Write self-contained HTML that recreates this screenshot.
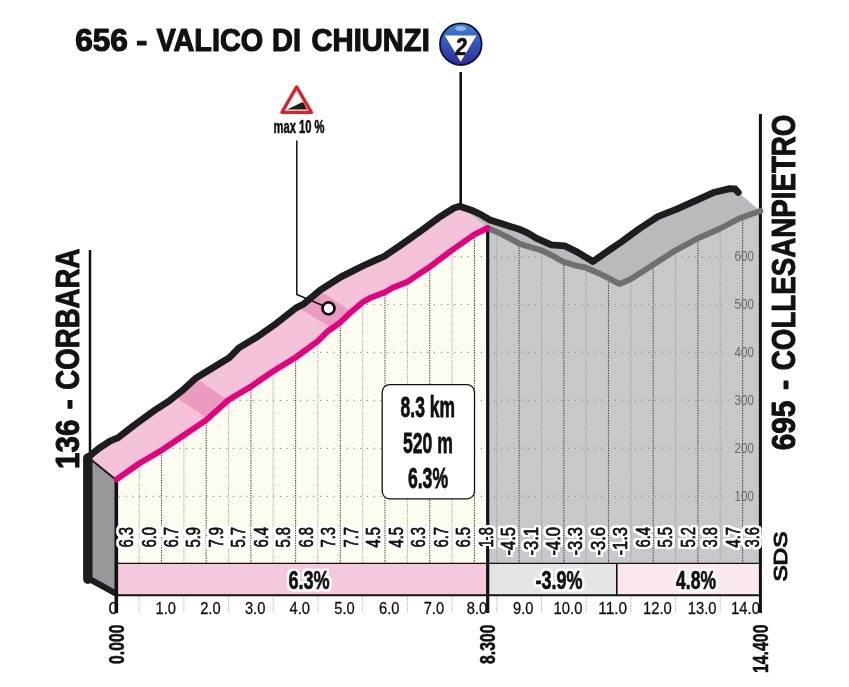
<!DOCTYPE html>
<html lang="it"><head><meta charset="utf-8"><title>Valico di Chiunzi</title>
<style>html,body{margin:0;padding:0;background:#fff}svg{display:block}text{font-family:"Liberation Sans",sans-serif}</style>
</head><body>
<svg width="849" height="687" viewBox="0 0 849 687">
<defs>
<clipPath id="cf"><polygon points="116.6,479.3 139.2,463.5 161.5,450.4 183.8,435.2 205.8,420.4 228.4,400.0 250.9,386.6 273.2,371.2 295.6,357.5 317.9,341.2 327.5,331.5 340.3,322.3 351.2,311.9 362.6,302.3 370.0,298.1 385.0,292.3 392.8,287.8 407.1,282.1 419.0,274.0 429.5,267.1 451.7,250.3 474.2,234.7 487.5,228.0 498.4,232.6 507.8,237.3 519.2,243.6 532.4,247.7 541.9,250.5 553.2,256.2 562.7,261.5 575.9,265.7 585.4,267.5 598.6,273.2 608.1,277.9 619.2,283.9 630.0,279.6 641.5,272.2 653.1,264.8 674.8,250.8 697.5,238.5 719.3,229.0 741.0,217.7 760.4,211.0 760.4,563.4 116.6,563.4"/></clipPath>
<clipPath id="ct"><polygon points="88.5,456.9 98.9,448.3 110.3,440.8 117.8,437.9 134.8,424.7 155.7,409.6 168.9,401.1 182.1,390.7 195.4,378.4 212.4,368.0 229.4,357.6 238.9,347.9 257.8,336.5 276.7,323.2 295.7,308.1 303.2,304.3 320.2,290.1 341.0,276.9 363.7,265.5 375.1,260.4 384.0,256.5 402.9,243.6 421.8,230.3 440.7,216.3 454.0,208.0 459.6,206.2 487.5,228.0 474.2,234.7 451.7,250.3 429.5,267.1 419.0,274.0 407.1,282.1 392.8,287.8 385.0,292.3 370.0,298.1 362.6,302.3 351.2,311.9 340.3,322.3 327.5,331.5 317.9,341.2 295.6,357.5 273.2,371.2 250.9,386.6 228.4,400.0 205.8,420.4 183.8,435.2 161.5,450.4 139.2,463.5 116.6,479.3"/></clipPath>
<linearGradient id="bg" x1="0" y1="0" x2="0" y2="1"><stop offset="0" stop-color="#3f86d6"/><stop offset="0.45" stop-color="#3558c0"/><stop offset="1" stop-color="#2f2a96"/></linearGradient>
<filter id="halo" x="-5%" y="-5%" width="110%" height="110%" color-interpolation-filters="sRGB"><feMorphology in="SourceAlpha" operator="dilate" radius="1.7" result="d"/><feGaussianBlur in="d" stdDeviation="0.4" result="db"/><feComponentTransfer in="db" result="dc"><feFuncA type="linear" slope="3" intercept="0"/></feComponentTransfer><feFlood flood-color="#fff"/><feComposite in2="dc" operator="in" result="h"/><feMerge><feMergeNode in="h"/><feMergeNode in="SourceGraphic"/></feMerge></filter>
</defs>
<rect width="849" height="687" fill="#fff"/>
<polygon points="459.6,206.2 472.9,210.7 481.3,214.8 490.0,220.0 505.0,224.8 520.2,229.6 528.0,233.2 536.2,238.2 551.3,244.8 564.6,245.8 577.8,252.4 593.0,261.5 610.0,249.6 621.2,242.0 638.9,229.0 657.8,216.7 676.7,209.2 695.7,200.7 714.6,192.2 729.7,188.6 735.2,188.9 738.3,192.4 760.4,211.0 741.0,217.7 719.3,229.0 697.5,238.5 674.8,250.8 653.1,264.8 641.5,272.2 630.0,279.6 619.2,283.9 608.1,277.9 598.6,273.2 585.4,267.5 575.9,265.7 562.7,261.5 553.2,256.2 541.9,250.5 532.4,247.7 519.2,243.6 507.8,237.3 498.4,232.6 487.5,228.0" fill="#b9babd"/>
<polygon points="88.5,456.9 98.9,448.3 110.3,440.8 117.8,437.9 134.8,424.7 155.7,409.6 168.9,401.1 182.1,390.7 195.4,378.4 212.4,368.0 229.4,357.6 238.9,347.9 257.8,336.5 276.7,323.2 295.7,308.1 303.2,304.3 320.2,290.1 341.0,276.9 363.7,265.5 375.1,260.4 384.0,256.5 402.9,243.6 421.8,230.3 440.7,216.3 454.0,208.0 459.6,206.2 487.5,228.0 474.2,234.7 451.7,250.3 429.5,267.1 419.0,274.0 407.1,282.1 392.8,287.8 385.0,292.3 370.0,298.1 362.6,302.3 351.2,311.9 340.3,322.3 327.5,331.5 317.9,341.2 295.6,357.5 273.2,371.2 250.9,386.6 228.4,400.0 205.8,420.4 183.8,435.2 161.5,450.4 139.2,463.5 116.6,479.3" fill="#f4c3da"/>
<g clip-path="url(#ct)" fill="#ea9cc0">
<polygon points="177.5,398.6 198.3,379.7 227.8,400.2 207,418.1"/>
<polygon points="300.4,309 322.9,292.8 351.5,311.6 330.8,327.8"/>
</g>
<polygon points="116.6,479.3 139.2,463.5 161.5,450.4 183.8,435.2 205.8,420.4 228.4,400.0 250.9,386.6 273.2,371.2 295.6,357.5 317.9,341.2 327.5,331.5 340.3,322.3 351.2,311.9 362.6,302.3 370.0,298.1 385.0,292.3 392.8,287.8 407.1,282.1 419.0,274.0 429.5,267.1 451.7,250.3 474.2,234.7 487.5,228.0 487.8,563.4 116.6,563.4" fill="#fdfcf1"/>
<polygon points="487.5,228.0 498.4,232.6 507.8,237.3 519.2,243.6 532.4,247.7 541.9,250.5 553.2,256.2 562.7,261.5 575.9,265.7 585.4,267.5 598.6,273.2 608.1,277.9 619.2,283.9 630.0,279.6 641.5,272.2 653.1,264.8 674.8,250.8 697.5,238.5 719.3,229.0 741.0,217.7 760.4,211.0 760.4,563.4 487.8,563.4" fill="#c7c8cc"/>
<g clip-path="url(#cf)" fill="none">
<line x1="119" y1="496.3" x2="729" y2="496.3" stroke="#8f8f8f" stroke-width="1.2" stroke-dasharray="1.2 5.5"/>
<line x1="119" y1="448.3" x2="729" y2="448.3" stroke="#8f8f8f" stroke-width="1.2" stroke-dasharray="1.2 5.5"/>
<line x1="119" y1="400.4" x2="729" y2="400.4" stroke="#8f8f8f" stroke-width="1.2" stroke-dasharray="1.2 5.5"/>
<line x1="119" y1="352.4" x2="729" y2="352.4" stroke="#8f8f8f" stroke-width="1.2" stroke-dasharray="1.2 5.5"/>
<line x1="119" y1="304.5" x2="729" y2="304.5" stroke="#8f8f8f" stroke-width="1.2" stroke-dasharray="1.2 5.5"/>
<line x1="119" y1="256.6" x2="729" y2="256.6" stroke="#8f8f8f" stroke-width="1.2" stroke-dasharray="1.2 5.5"/>
<line x1="139.2" y1="180" x2="139.2" y2="563.4" stroke="#9a9a9a" stroke-width="1" stroke-dasharray="0.9 0.9"/>
<line x1="161.5" y1="180" x2="161.5" y2="563.4" stroke="#3a3a3a" stroke-width="1.1" stroke-dasharray="1.2 1.3"/>
<line x1="183.9" y1="180" x2="183.9" y2="563.4" stroke="#9a9a9a" stroke-width="1" stroke-dasharray="0.9 0.9"/>
<line x1="206.2" y1="180" x2="206.2" y2="563.4" stroke="#3a3a3a" stroke-width="1.1" stroke-dasharray="1.2 1.3"/>
<line x1="228.6" y1="180" x2="228.6" y2="563.4" stroke="#9a9a9a" stroke-width="1" stroke-dasharray="0.9 0.9"/>
<line x1="250.9" y1="180" x2="250.9" y2="563.4" stroke="#3a3a3a" stroke-width="1.1" stroke-dasharray="1.2 1.3"/>
<line x1="273.2" y1="180" x2="273.2" y2="563.4" stroke="#9a9a9a" stroke-width="1" stroke-dasharray="0.9 0.9"/>
<line x1="295.6" y1="180" x2="295.6" y2="563.4" stroke="#3a3a3a" stroke-width="1.1" stroke-dasharray="1.2 1.3"/>
<line x1="317.9" y1="180" x2="317.9" y2="563.4" stroke="#9a9a9a" stroke-width="1" stroke-dasharray="0.9 0.9"/>
<line x1="340.3" y1="180" x2="340.3" y2="563.4" stroke="#3a3a3a" stroke-width="1.1" stroke-dasharray="1.2 1.3"/>
<line x1="362.7" y1="180" x2="362.7" y2="563.4" stroke="#9a9a9a" stroke-width="1" stroke-dasharray="0.9 0.9"/>
<line x1="385.0" y1="180" x2="385.0" y2="563.4" stroke="#3a3a3a" stroke-width="1.1" stroke-dasharray="1.2 1.3"/>
<line x1="407.4" y1="180" x2="407.4" y2="563.4" stroke="#9a9a9a" stroke-width="1" stroke-dasharray="0.9 0.9"/>
<line x1="429.7" y1="180" x2="429.7" y2="563.4" stroke="#3a3a3a" stroke-width="1.1" stroke-dasharray="1.2 1.3"/>
<line x1="452.1" y1="180" x2="452.1" y2="563.4" stroke="#9a9a9a" stroke-width="1" stroke-dasharray="0.9 0.9"/>
<line x1="474.4" y1="180" x2="474.4" y2="563.4" stroke="#3a3a3a" stroke-width="1.1" stroke-dasharray="1.2 1.3"/>
<line x1="496.8" y1="180" x2="496.8" y2="563.4" stroke="#9a9a9a" stroke-width="1" stroke-dasharray="0.9 0.9"/>
<line x1="519.1" y1="180" x2="519.1" y2="563.4" stroke="#3a3a3a" stroke-width="1.1" stroke-dasharray="1.2 1.3"/>
<line x1="541.5" y1="180" x2="541.5" y2="563.4" stroke="#9a9a9a" stroke-width="1" stroke-dasharray="0.9 0.9"/>
<line x1="563.8" y1="180" x2="563.8" y2="563.4" stroke="#3a3a3a" stroke-width="1.1" stroke-dasharray="1.2 1.3"/>
<line x1="586.1" y1="180" x2="586.1" y2="563.4" stroke="#9a9a9a" stroke-width="1" stroke-dasharray="0.9 0.9"/>
<line x1="608.5" y1="180" x2="608.5" y2="563.4" stroke="#3a3a3a" stroke-width="1.1" stroke-dasharray="1.2 1.3"/>
<line x1="630.9" y1="180" x2="630.9" y2="563.4" stroke="#9a9a9a" stroke-width="1" stroke-dasharray="0.9 0.9"/>
<line x1="653.2" y1="180" x2="653.2" y2="563.4" stroke="#3a3a3a" stroke-width="1.1" stroke-dasharray="1.2 1.3"/>
<line x1="675.5" y1="180" x2="675.5" y2="563.4" stroke="#9a9a9a" stroke-width="1" stroke-dasharray="0.9 0.9"/>
<line x1="697.9" y1="180" x2="697.9" y2="563.4" stroke="#3a3a3a" stroke-width="1.1" stroke-dasharray="1.2 1.3"/>
<line x1="720.2" y1="180" x2="720.2" y2="563.4" stroke="#9a9a9a" stroke-width="1" stroke-dasharray="0.9 0.9"/>
<line x1="742.6" y1="180" x2="742.6" y2="563.4" stroke="#3a3a3a" stroke-width="1.1" stroke-dasharray="1.2 1.3"/>
</g>
<line x1="139.2" y1="595.3" x2="139.2" y2="613" stroke="#aaa" stroke-width="1" stroke-dasharray="0.9 0.9"/>
<line x1="183.9" y1="595.3" x2="183.9" y2="613" stroke="#aaa" stroke-width="1" stroke-dasharray="0.9 0.9"/>
<line x1="228.6" y1="595.3" x2="228.6" y2="613" stroke="#aaa" stroke-width="1" stroke-dasharray="0.9 0.9"/>
<line x1="273.2" y1="595.3" x2="273.2" y2="613" stroke="#aaa" stroke-width="1" stroke-dasharray="0.9 0.9"/>
<line x1="317.9" y1="595.3" x2="317.9" y2="613" stroke="#aaa" stroke-width="1" stroke-dasharray="0.9 0.9"/>
<line x1="362.7" y1="595.3" x2="362.7" y2="613" stroke="#aaa" stroke-width="1" stroke-dasharray="0.9 0.9"/>
<line x1="407.4" y1="595.3" x2="407.4" y2="613" stroke="#aaa" stroke-width="1" stroke-dasharray="0.9 0.9"/>
<line x1="452.1" y1="595.3" x2="452.1" y2="613" stroke="#aaa" stroke-width="1" stroke-dasharray="0.9 0.9"/>
<line x1="496.8" y1="595.3" x2="496.8" y2="613" stroke="#aaa" stroke-width="1" stroke-dasharray="0.9 0.9"/>
<line x1="541.5" y1="595.3" x2="541.5" y2="613" stroke="#aaa" stroke-width="1" stroke-dasharray="0.9 0.9"/>
<line x1="586.1" y1="595.3" x2="586.1" y2="613" stroke="#aaa" stroke-width="1" stroke-dasharray="0.9 0.9"/>
<line x1="630.9" y1="595.3" x2="630.9" y2="613" stroke="#aaa" stroke-width="1" stroke-dasharray="0.9 0.9"/>
<line x1="675.5" y1="595.3" x2="675.5" y2="613" stroke="#aaa" stroke-width="1" stroke-dasharray="0.9 0.9"/>
<line x1="720.2" y1="595.3" x2="720.2" y2="613" stroke="#aaa" stroke-width="1" stroke-dasharray="0.9 0.9"/>
<rect x="116.6" y="563.4" width="371.2" height="31.9" fill="#f6c8dd"/>
<rect x="487.8" y="563.4" width="129" height="31.9" fill="#e4e5e6"/>
<rect x="616.8" y="563.4" width="143.6" height="31.9" fill="#fce9f0"/>
<line x1="116" y1="563.4" x2="761" y2="563.4" stroke="#111" stroke-width="1.4"/>
<line x1="116" y1="595.3" x2="761" y2="595.3" stroke="#111" stroke-width="2.1"/>
<line x1="616.8" y1="563.4" x2="616.8" y2="595.3" stroke="#111" stroke-width="1.6"/>
<polygon points="88,458 116.3,480 116.3,595 88,579" fill="#96989b"/>
<path d="M87.8 458 L87.8 579.3" stroke="#1d1d1f" stroke-width="9.4" stroke-linecap="round" fill="none"/>
<path d="M88.5 578.5 L116 593.6" stroke="#1d1d1f" stroke-width="6.2" stroke-linecap="butt" fill="none"/>
<path d="M89 458 L116.3 480" stroke="#1d1d1f" stroke-width="2.1" fill="none"/>
<line x1="90" y1="250" x2="90" y2="458" stroke="#111" stroke-width="2.5"/>
<line x1="460.7" y1="72" x2="460.7" y2="207" stroke="#111" stroke-width="2.6"/>
<polyline points="296.8,140.5 296.8,294.4 324,306" stroke="#111" stroke-width="1.5" fill="none"/>
<line x1="116.3" y1="480" x2="116.3" y2="613" stroke="#111" stroke-width="3.6"/>
<line x1="487.7" y1="230" x2="487.7" y2="613" stroke="#111" stroke-width="3.2"/>
<line x1="760.4" y1="114" x2="760.4" y2="613" stroke="#111" stroke-width="3"/>
<polyline points="487.5,228.0 498.4,232.6 507.8,237.3 519.2,243.6 532.4,247.7 541.9,250.5 553.2,256.2 562.7,261.5 575.9,265.7 585.4,267.5 598.6,273.2 608.1,277.9 619.2,283.9 630.0,279.6 641.5,272.2 653.1,264.8 674.8,250.8 697.5,238.5 719.3,229.0 741.0,217.7 760.4,211.0" fill="none" stroke="#6f6f73" stroke-width="5.9" stroke-linejoin="round" stroke-linecap="round"/>
<polyline points="116.6,479.3 139.2,463.5 161.5,450.4 183.8,435.2 205.8,420.4 228.4,400.0 250.9,386.6 273.2,371.2 295.6,357.5 317.9,341.2 327.5,331.5 340.3,322.3 351.2,311.9 362.6,302.3 370.0,298.1 385.0,292.3 392.8,287.8 407.1,282.1 419.0,274.0 429.5,267.1 451.7,250.3 474.2,234.7 487.5,228.0" fill="none" stroke="#e5007d" stroke-width="5.9" stroke-linejoin="round" stroke-linecap="round"/>
<polyline points="88.5,456.9 98.9,448.3 110.3,440.8 117.8,437.9 134.8,424.7 155.7,409.6 168.9,401.1 182.1,390.7 195.4,378.4 212.4,368.0 229.4,357.6 238.9,347.9 257.8,336.5 276.7,323.2 295.7,308.1 303.2,304.3 320.2,290.1 341.0,276.9 363.7,265.5 375.1,260.4 384.0,256.5 402.9,243.6 421.8,230.3 440.7,216.3 454.0,208.0 459.6,206.2 472.9,210.7 481.3,214.8 490.0,220.0 505.0,224.8 520.2,229.6 528.0,233.2 536.2,238.2 551.3,244.8 564.6,245.8 577.8,252.4 593.0,261.5 610.0,249.6 621.2,242.0 638.9,229.0 657.8,216.7 676.7,209.2 695.7,200.7 714.6,192.2 729.7,188.6 735.2,188.9 738.3,192.4" fill="none" stroke="#1d1d1f" stroke-width="6.8" stroke-linejoin="round" stroke-linecap="round"/>
<circle cx="328.5" cy="308.4" r="6.0" fill="#fff" stroke="#111" stroke-width="2.7"/>
<polygon points="296.65,86.9 281.9,112.4 311.4,112.4" fill="#fff" stroke="#e31e26" stroke-width="3.3" stroke-linejoin="round"/>
<polygon points="287,109.6 302,102.3 303.6,102.8 307,109.6" fill="#1d1d1f"/>
<circle cx="460.8" cy="44.2" r="20.8" fill="url(#bg)" stroke="#10103c" stroke-width="1.8"/>
<ellipse cx="460.6" cy="28.6" rx="5.4" ry="2.5" fill="#8ab8ec"/>
<polygon points="444.8,35.5 476.4,35.5 460.7,61.8" fill="#fff"/>
<text y="51.0" font-size="31.6" font-weight="bold" fill="#111" stroke="#111" stroke-width="1.2" stroke-linejoin="round"><tspan x="75.2" textLength="52.7" lengthAdjust="spacingAndGlyphs">656</tspan> <tspan x="136.2" textLength="11.1" lengthAdjust="spacingAndGlyphs">-</tspan> <tspan x="156.4" textLength="106.8" lengthAdjust="spacingAndGlyphs">VALICO</tspan> <tspan x="272.1" textLength="28.9" lengthAdjust="spacingAndGlyphs">DI</tspan> <tspan x="311.5" textLength="118.3" lengthAdjust="spacingAndGlyphs">CHIUNZI</tspan></text>
<text transform="translate(78.8 0) rotate(-90)" font-size="33.2" font-weight="bold" fill="#111" stroke="#111" stroke-width="1.0" stroke-linejoin="round"><tspan x="-469.0" textLength="49.4" lengthAdjust="spacingAndGlyphs">136</tspan> <tspan x="-409.4" textLength="10.3" lengthAdjust="spacingAndGlyphs">-</tspan> <tspan x="-389.7" textLength="141.1" lengthAdjust="spacingAndGlyphs">CORBARA</tspan></text>
<text transform="translate(795.2 0) rotate(-90)" font-size="33.4" font-weight="bold" fill="#111" stroke="#111" stroke-width="1.0" stroke-linejoin="round"><tspan x="-450.2" textLength="49.6" lengthAdjust="spacingAndGlyphs">695</tspan> <tspan x="-389.9" textLength="10.2" lengthAdjust="spacingAndGlyphs">-</tspan> <tspan x="-370.2" textLength="255.6" lengthAdjust="spacingAndGlyphs">COLLESANPIETRO</tspan></text>
<text x="299.0" y="132.5" text-anchor="middle" font-size="18.4" font-weight="bold" fill="#111" textLength="51.0" lengthAdjust="spacingAndGlyphs"  stroke="#111" stroke-width="0.6" stroke-linejoin="round">max 10 %</text>
<rect x="382.2" y="384.7" width="92.3" height="114.1" rx="7.5" fill="#fff" stroke="#111" stroke-width="1.3"/>
<text x="427.8" y="417.2" text-anchor="middle" font-size="29.8" font-weight="bold" fill="#111" textLength="54.4" lengthAdjust="spacingAndGlyphs"  stroke="#111" stroke-width="0.8" stroke-linejoin="round">8.3 km</text>
<text x="427.9" y="452.5" text-anchor="middle" font-size="29.8" font-weight="bold" fill="#111" textLength="49.9" lengthAdjust="spacingAndGlyphs"  stroke="#111" stroke-width="0.8" stroke-linejoin="round">520 m</text>
<text x="428.0" y="488.2" text-anchor="middle" font-size="29.8" font-weight="bold" fill="#111" textLength="40.1" lengthAdjust="spacingAndGlyphs"  stroke="#111" stroke-width="0.8" stroke-linejoin="round">6.3%</text>
<g filter="url(#halo)">
<text x="309.0" y="589.4" text-anchor="middle" font-size="24.9" font-weight="bold" fill="#111" textLength="41.2" lengthAdjust="spacingAndGlyphs"  stroke="#111" stroke-width="0.7" stroke-linejoin="round">6.3%</text>
<text x="559.1" y="589.4" text-anchor="middle" font-size="24.9" font-weight="bold" fill="#111" textLength="47.0" lengthAdjust="spacingAndGlyphs"  stroke="#111" stroke-width="0.7" stroke-linejoin="round">-3.9%</text>
<text x="696.0" y="589.4" text-anchor="middle" font-size="24.9" font-weight="bold" fill="#111" textLength="40.0" lengthAdjust="spacingAndGlyphs"  stroke="#111" stroke-width="0.7" stroke-linejoin="round">4.8%</text>
<text transform="translate(133.0 527.0) rotate(-90)" text-anchor="end" font-size="19.3" font-weight="normal" fill="#111" textLength="20.6" lengthAdjust="spacingAndGlyphs"  stroke="#111" stroke-width="0.7" stroke-linejoin="round">6.3</text>
<text transform="translate(155.5 527.0) rotate(-90)" text-anchor="end" font-size="19.3" font-weight="normal" fill="#111" textLength="20.6" lengthAdjust="spacingAndGlyphs"  stroke="#111" stroke-width="0.7" stroke-linejoin="round">6.0</text>
<text transform="translate(177.9 527.0) rotate(-90)" text-anchor="end" font-size="19.3" font-weight="normal" fill="#111" textLength="20.6" lengthAdjust="spacingAndGlyphs"  stroke="#111" stroke-width="0.7" stroke-linejoin="round">6.7</text>
<text transform="translate(200.4 527.0) rotate(-90)" text-anchor="end" font-size="19.3" font-weight="normal" fill="#111" textLength="20.6" lengthAdjust="spacingAndGlyphs"  stroke="#111" stroke-width="0.7" stroke-linejoin="round">5.9</text>
<text transform="translate(222.9 527.0) rotate(-90)" text-anchor="end" font-size="19.3" font-weight="normal" fill="#111" textLength="20.6" lengthAdjust="spacingAndGlyphs"  stroke="#111" stroke-width="0.7" stroke-linejoin="round">7.9</text>
<text transform="translate(245.3 527.0) rotate(-90)" text-anchor="end" font-size="19.3" font-weight="normal" fill="#111" textLength="20.6" lengthAdjust="spacingAndGlyphs"  stroke="#111" stroke-width="0.7" stroke-linejoin="round">5.7</text>
<text transform="translate(267.8 527.0) rotate(-90)" text-anchor="end" font-size="19.3" font-weight="normal" fill="#111" textLength="20.6" lengthAdjust="spacingAndGlyphs"  stroke="#111" stroke-width="0.7" stroke-linejoin="round">6.4</text>
<text transform="translate(290.3 527.0) rotate(-90)" text-anchor="end" font-size="19.3" font-weight="normal" fill="#111" textLength="20.6" lengthAdjust="spacingAndGlyphs"  stroke="#111" stroke-width="0.7" stroke-linejoin="round">5.8</text>
<text transform="translate(312.8 527.0) rotate(-90)" text-anchor="end" font-size="19.3" font-weight="normal" fill="#111" textLength="20.6" lengthAdjust="spacingAndGlyphs"  stroke="#111" stroke-width="0.7" stroke-linejoin="round">6.8</text>
<text transform="translate(335.2 527.0) rotate(-90)" text-anchor="end" font-size="19.3" font-weight="normal" fill="#111" textLength="20.6" lengthAdjust="spacingAndGlyphs"  stroke="#111" stroke-width="0.7" stroke-linejoin="round">7.3</text>
<text transform="translate(357.7 527.0) rotate(-90)" text-anchor="end" font-size="19.3" font-weight="normal" fill="#111" textLength="20.6" lengthAdjust="spacingAndGlyphs"  stroke="#111" stroke-width="0.7" stroke-linejoin="round">7.7</text>
<text transform="translate(380.2 527.0) rotate(-90)" text-anchor="end" font-size="19.3" font-weight="normal" fill="#111" textLength="20.6" lengthAdjust="spacingAndGlyphs"  stroke="#111" stroke-width="0.7" stroke-linejoin="round">4.5</text>
<text transform="translate(402.6 527.0) rotate(-90)" text-anchor="end" font-size="19.3" font-weight="normal" fill="#111" textLength="20.6" lengthAdjust="spacingAndGlyphs"  stroke="#111" stroke-width="0.7" stroke-linejoin="round">4.5</text>
<text transform="translate(425.1 527.0) rotate(-90)" text-anchor="end" font-size="19.3" font-weight="normal" fill="#111" textLength="20.6" lengthAdjust="spacingAndGlyphs"  stroke="#111" stroke-width="0.7" stroke-linejoin="round">6.3</text>
<text transform="translate(447.6 527.0) rotate(-90)" text-anchor="end" font-size="19.3" font-weight="normal" fill="#111" textLength="20.6" lengthAdjust="spacingAndGlyphs"  stroke="#111" stroke-width="0.7" stroke-linejoin="round">6.7</text>
<text transform="translate(470.0 527.0) rotate(-90)" text-anchor="end" font-size="19.3" font-weight="normal" fill="#111" textLength="20.6" lengthAdjust="spacingAndGlyphs"  stroke="#111" stroke-width="0.7" stroke-linejoin="round">6.5</text>
<text transform="translate(492.5 527.0) rotate(-90)" text-anchor="end" font-size="19.3" font-weight="normal" fill="#111" textLength="20.6" lengthAdjust="spacingAndGlyphs"  stroke="#111" stroke-width="0.7" stroke-linejoin="round">1.8</text>
<text transform="translate(515.0 527.0) rotate(-90)" text-anchor="end" font-size="19.3" font-weight="normal" fill="#111" textLength="28.6" lengthAdjust="spacingAndGlyphs"  stroke="#111" stroke-width="0.7" stroke-linejoin="round">-4.5</text>
<text transform="translate(537.5 527.0) rotate(-90)" text-anchor="end" font-size="19.3" font-weight="normal" fill="#111" textLength="28.6" lengthAdjust="spacingAndGlyphs"  stroke="#111" stroke-width="0.7" stroke-linejoin="round">-3.1</text>
<text transform="translate(559.9 527.0) rotate(-90)" text-anchor="end" font-size="19.3" font-weight="normal" fill="#111" textLength="28.6" lengthAdjust="spacingAndGlyphs"  stroke="#111" stroke-width="0.7" stroke-linejoin="round">-4.0</text>
<text transform="translate(582.4 527.0) rotate(-90)" text-anchor="end" font-size="19.3" font-weight="normal" fill="#111" textLength="28.6" lengthAdjust="spacingAndGlyphs"  stroke="#111" stroke-width="0.7" stroke-linejoin="round">-3.3</text>
<text transform="translate(604.9 527.0) rotate(-90)" text-anchor="end" font-size="19.3" font-weight="normal" fill="#111" textLength="28.6" lengthAdjust="spacingAndGlyphs"  stroke="#111" stroke-width="0.7" stroke-linejoin="round">-3.6</text>
<text transform="translate(627.3 527.0) rotate(-90)" text-anchor="end" font-size="19.3" font-weight="normal" fill="#111" textLength="28.6" lengthAdjust="spacingAndGlyphs"  stroke="#111" stroke-width="0.7" stroke-linejoin="round">-1.3</text>
<text transform="translate(649.8 527.0) rotate(-90)" text-anchor="end" font-size="19.3" font-weight="normal" fill="#111" textLength="20.6" lengthAdjust="spacingAndGlyphs"  stroke="#111" stroke-width="0.7" stroke-linejoin="round">6.4</text>
<text transform="translate(672.3 527.0) rotate(-90)" text-anchor="end" font-size="19.3" font-weight="normal" fill="#111" textLength="20.6" lengthAdjust="spacingAndGlyphs"  stroke="#111" stroke-width="0.7" stroke-linejoin="round">5.5</text>
<text transform="translate(694.8 527.0) rotate(-90)" text-anchor="end" font-size="19.3" font-weight="normal" fill="#111" textLength="20.6" lengthAdjust="spacingAndGlyphs"  stroke="#111" stroke-width="0.7" stroke-linejoin="round">5.2</text>
<text transform="translate(717.2 527.0) rotate(-90)" text-anchor="end" font-size="19.3" font-weight="normal" fill="#111" textLength="20.6" lengthAdjust="spacingAndGlyphs"  stroke="#111" stroke-width="0.7" stroke-linejoin="round">3.8</text>
<text transform="translate(739.7 527.0) rotate(-90)" text-anchor="end" font-size="19.3" font-weight="normal" fill="#111" textLength="20.6" lengthAdjust="spacingAndGlyphs"  stroke="#111" stroke-width="0.7" stroke-linejoin="round">4.7</text>
<text transform="translate(759.0 527.0) rotate(-90)" text-anchor="end" font-size="19.3" font-weight="normal" fill="#111" textLength="20.6" lengthAdjust="spacingAndGlyphs"  stroke="#111" stroke-width="0.7" stroke-linejoin="round">3.6</text>
</g>
<text x="113.4" y="613.5" text-anchor="middle" font-size="16.3" font-weight="normal" fill="#111" textLength="9.8" lengthAdjust="spacingAndGlyphs"  stroke="#111" stroke-width="0.3" stroke-linejoin="round">0</text>
<text x="165.7" y="613.5" text-anchor="middle" font-size="16.3" font-weight="normal" fill="#111" textLength="20.4" lengthAdjust="spacingAndGlyphs"  stroke="#111" stroke-width="0.3" stroke-linejoin="round">1.0</text>
<text x="210.4" y="613.5" text-anchor="middle" font-size="16.3" font-weight="normal" fill="#111" textLength="20.4" lengthAdjust="spacingAndGlyphs"  stroke="#111" stroke-width="0.3" stroke-linejoin="round">2.0</text>
<text x="255.1" y="613.5" text-anchor="middle" font-size="16.3" font-weight="normal" fill="#111" textLength="20.4" lengthAdjust="spacingAndGlyphs"  stroke="#111" stroke-width="0.3" stroke-linejoin="round">3.0</text>
<text x="299.8" y="613.5" text-anchor="middle" font-size="16.3" font-weight="normal" fill="#111" textLength="20.4" lengthAdjust="spacingAndGlyphs"  stroke="#111" stroke-width="0.3" stroke-linejoin="round">4.0</text>
<text x="344.5" y="613.5" text-anchor="middle" font-size="16.3" font-weight="normal" fill="#111" textLength="20.4" lengthAdjust="spacingAndGlyphs"  stroke="#111" stroke-width="0.3" stroke-linejoin="round">5.0</text>
<text x="389.2" y="613.5" text-anchor="middle" font-size="16.3" font-weight="normal" fill="#111" textLength="20.4" lengthAdjust="spacingAndGlyphs"  stroke="#111" stroke-width="0.3" stroke-linejoin="round">6.0</text>
<text x="433.9" y="613.5" text-anchor="middle" font-size="16.3" font-weight="normal" fill="#111" textLength="20.4" lengthAdjust="spacingAndGlyphs"  stroke="#111" stroke-width="0.3" stroke-linejoin="round">7.0</text>
<text x="477.0" y="613.5" text-anchor="middle" font-size="16.3" font-weight="normal" fill="#111" textLength="20.4" lengthAdjust="spacingAndGlyphs"  stroke="#111" stroke-width="0.3" stroke-linejoin="round">8.0</text>
<text x="523.3" y="613.5" text-anchor="middle" font-size="16.3" font-weight="normal" fill="#111" textLength="20.4" lengthAdjust="spacingAndGlyphs"  stroke="#111" stroke-width="0.3" stroke-linejoin="round">9.0</text>
<text x="568.0" y="613.5" text-anchor="middle" font-size="16.3" font-weight="normal" fill="#111" textLength="28.8" lengthAdjust="spacingAndGlyphs"  stroke="#111" stroke-width="0.3" stroke-linejoin="round">10.0</text>
<text x="612.7" y="613.5" text-anchor="middle" font-size="16.3" font-weight="normal" fill="#111" textLength="28.8" lengthAdjust="spacingAndGlyphs"  stroke="#111" stroke-width="0.3" stroke-linejoin="round">11.0</text>
<text x="657.4" y="613.5" text-anchor="middle" font-size="16.3" font-weight="normal" fill="#111" textLength="28.8" lengthAdjust="spacingAndGlyphs"  stroke="#111" stroke-width="0.3" stroke-linejoin="round">12.0</text>
<text x="702.1" y="613.5" text-anchor="middle" font-size="16.3" font-weight="normal" fill="#111" textLength="28.8" lengthAdjust="spacingAndGlyphs"  stroke="#111" stroke-width="0.3" stroke-linejoin="round">13.0</text>
<text x="745.5" y="613.5" text-anchor="middle" font-size="16.3" font-weight="normal" fill="#111" textLength="28.8" lengthAdjust="spacingAndGlyphs"  stroke="#111" stroke-width="0.3" stroke-linejoin="round">14.0</text>
<text transform="translate(124.2 624.5) rotate(-90)" text-anchor="end" font-size="22.6" font-weight="bold" fill="#111" textLength="39.4" lengthAdjust="spacingAndGlyphs"  stroke="#111" stroke-width="0.5" stroke-linejoin="round">0.000</text>
<text transform="translate(494.6 624.5) rotate(-90)" text-anchor="end" font-size="22.6" font-weight="bold" fill="#111" textLength="39.4" lengthAdjust="spacingAndGlyphs"  stroke="#111" stroke-width="0.5" stroke-linejoin="round">8.300</text>
<text transform="translate(767.5 624.5) rotate(-90)" text-anchor="end" font-size="22.6" font-weight="bold" fill="#111" textLength="48.6" lengthAdjust="spacingAndGlyphs"  stroke="#111" stroke-width="0.5" stroke-linejoin="round">14.400</text>
<text x="744.2" y="500.8" text-anchor="middle" font-size="14.2" font-weight="normal" fill="#66676a" textLength="19.4" lengthAdjust="spacingAndGlyphs" >100</text>
<text x="744.2" y="452.8" text-anchor="middle" font-size="14.2" font-weight="normal" fill="#66676a" textLength="19.4" lengthAdjust="spacingAndGlyphs" >200</text>
<text x="744.2" y="404.9" text-anchor="middle" font-size="14.2" font-weight="normal" fill="#66676a" textLength="19.4" lengthAdjust="spacingAndGlyphs" >300</text>
<text x="744.2" y="356.9" text-anchor="middle" font-size="14.2" font-weight="normal" fill="#66676a" textLength="19.4" lengthAdjust="spacingAndGlyphs" >400</text>
<text x="744.2" y="309.0" text-anchor="middle" font-size="14.2" font-weight="normal" fill="#66676a" textLength="19.4" lengthAdjust="spacingAndGlyphs" >500</text>
<text x="744.2" y="261.1" text-anchor="middle" font-size="14.2" font-weight="normal" fill="#66676a" textLength="19.4" lengthAdjust="spacingAndGlyphs" >600</text>
<text x="461" y="54.7" text-anchor="middle" font-size="24.6" font-weight="bold" font-style="italic" fill="#111" stroke="#111" stroke-width="0.7" textLength="11.2" lengthAdjust="spacingAndGlyphs">2</text>
<text transform="translate(787.4 531.6) rotate(-90)" text-anchor="end" font-size="18.2" fill="#111" stroke="#111" stroke-width="1.1" stroke-linejoin="round" textLength="50" lengthAdjust="spacingAndGlyphs">SDS</text>
</svg>
</body></html>
